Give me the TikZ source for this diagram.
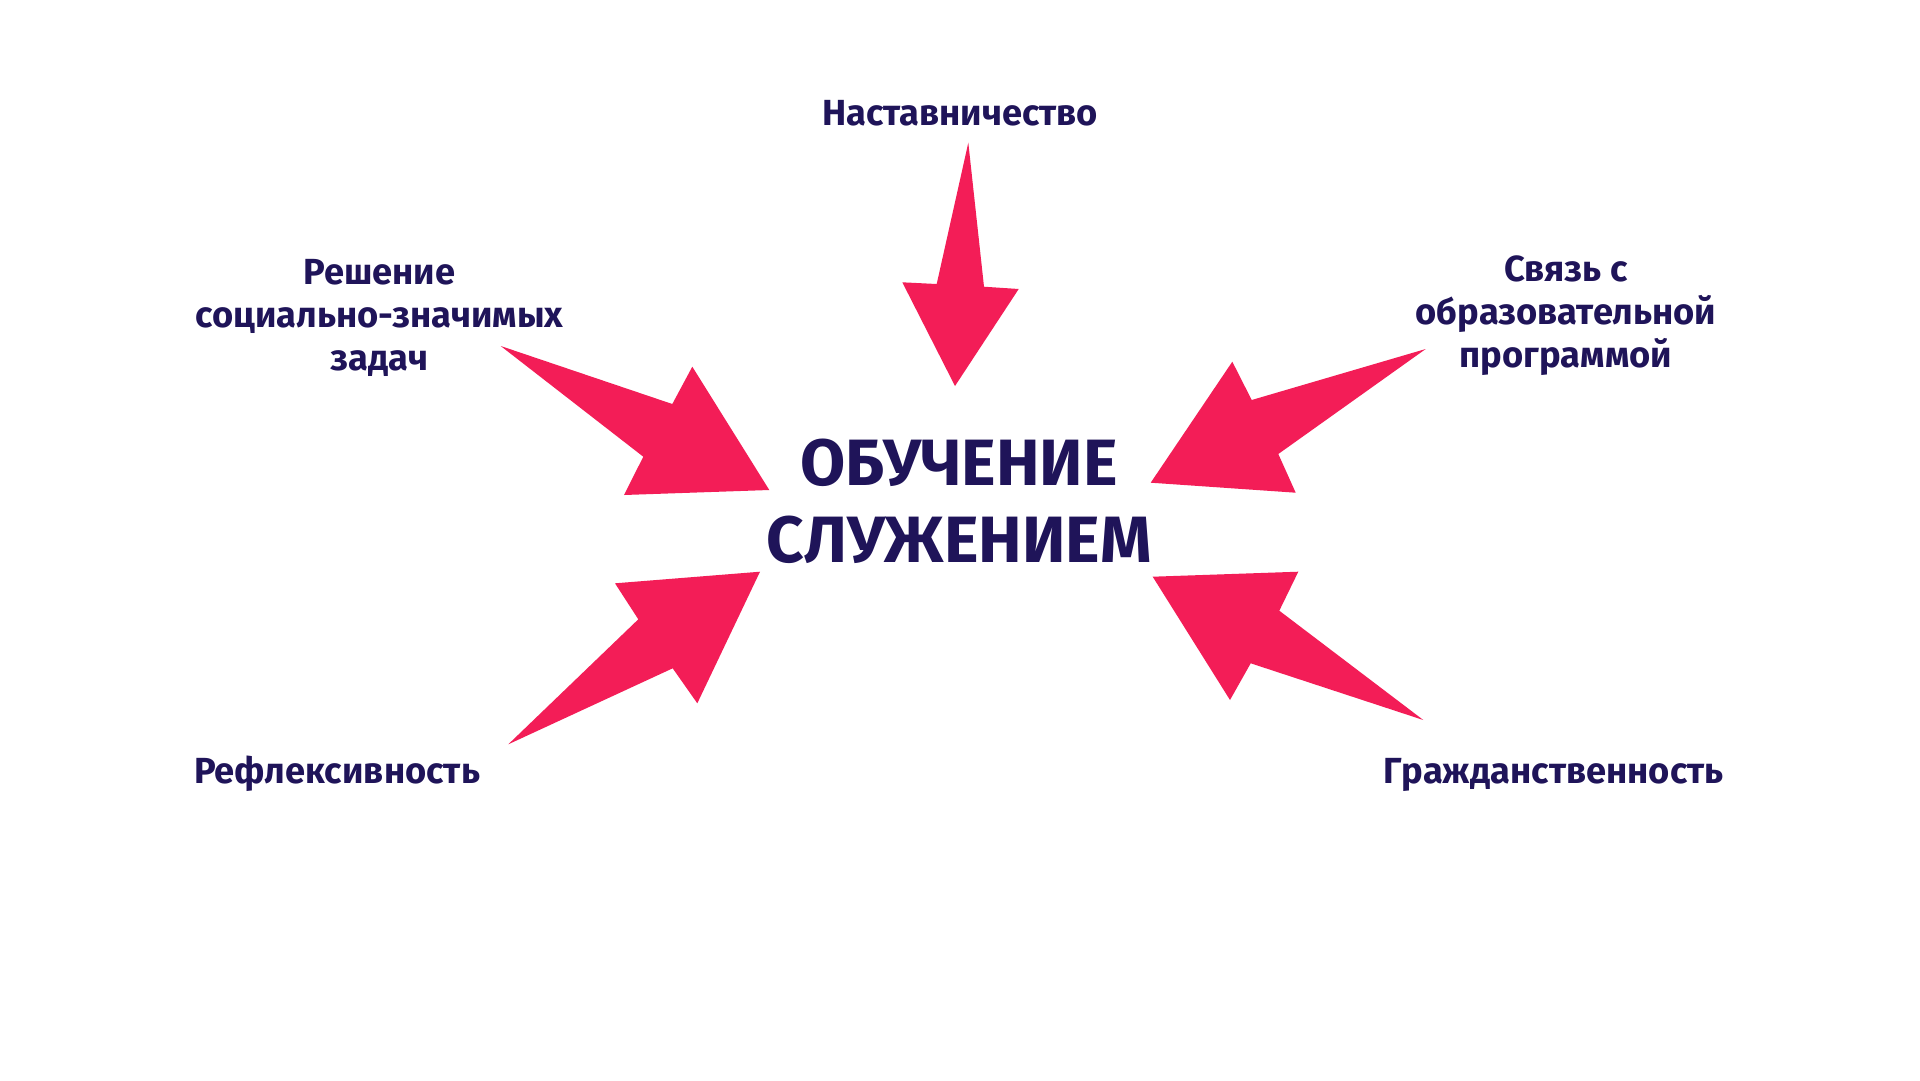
\documentclass[tikz,border=0pt]{standalone}
\usepackage{fontspec}
\setmainfont{Fira Sans}
\definecolor{navy}{RGB}{31,20,89}
\definecolor{arrowred}{RGB}{243,29,87}
\begin{document}
\begin{tikzpicture}[x=1pt,y=-1pt,
  lbl/.style={inner sep=0pt,anchor=base,align=center,text=navy,
    font=\fontsize{36.3}{43}\selectfont\bfseries},
  big/.style={inner sep=0pt,anchor=base,align=center,text=navy,
    font=\fontsize{65.5}{77}\selectfont\bfseries},
  blockarrow/.style={fill=arrowred,draw=none}]
\useasboundingbox (0,0) rectangle (1920,1080);
\fill[white] (0,0) rectangle (1920,1080);

% multi-line nodes: base anchor is on the last line
\node[big] (centre) at (959,562) {ОБУЧЕНИЕ\\СЛУЖЕНИЕМ};
\node[lbl] (nast) at (960,125) {Наставничество};
\node[lbl] (resh) at (379.5,370.3) {Решение\\социально-значимых\\задач};
\node[lbl] (svyaz) at (1566,367.7) {Связь с\\образовательной\\программой};
\node[lbl] (refl) at (337,783.3) {Рефлексивность};
\node[lbl] (grazh) at (1553.3,783.3) {Гражданственность};

% top arrow
\fill[blockarrow] (968.3,142.7) -- (984,286.7) -- (1018.7,289) -- (955,386)
  -- (902.3,282.3) -- (936.7,284) -- cycle;
% upper left arrow
\fill[blockarrow] (500.7,346) -- (672.3,404) -- (692.3,366.7) -- (769.3,490)
  -- (624,495) -- (643.3,456.7) -- cycle;
% upper right arrow
\fill[blockarrow] (1425.7,349) -- (1251.7,400) -- (1232.3,361.7) -- (1150.7,482.7)
  -- (1295.7,492.7) -- (1278.3,454) -- cycle;
% lower left arrow
\fill[blockarrow] (508.3,744.3) -- (672.7,668.3) -- (697.3,703.3) -- (760,571.7)
  -- (615,583.3) -- (638.3,619.3) -- cycle;
% lower right arrow
\fill[blockarrow] (1423.3,720) -- (1250.7,663.3) -- (1230,700) -- (1152.7,576.7)
  -- (1298.3,571.7) -- (1279.3,610.7) -- cycle;
\end{tikzpicture}
\end{document}
